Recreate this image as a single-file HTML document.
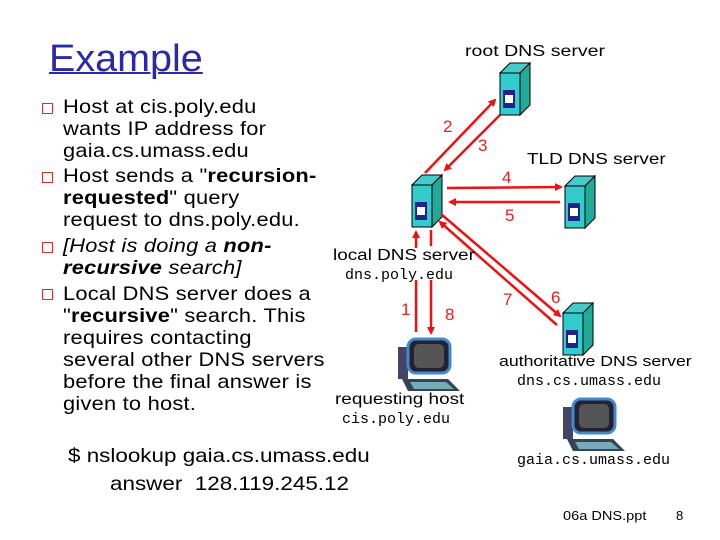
<!DOCTYPE html>
<html><head><meta charset="utf-8"><style>
body{margin:0;width:720px;height:540px;background:#fff;position:relative;overflow:hidden;font-family:"Liberation Sans",sans-serif}
.a{position:absolute;white-space:nowrap;transform-origin:0 0}
.t{font-size:19.5px;color:#000;left:63px;letter-spacing:0.2px;transform:scaleX(1.12)}
.b{position:absolute;left:42px;width:9px;height:9px;border:1.5px solid #c33;background:#fff}
.m{font-family:"Liberation Mono",monospace;font-size:15px}
.s{font-size:15.5px;transform:scaleX(1.22)}
.r{color:#d22;font-size:17px}
</style></head><body>
<svg class="a" style="left:0;top:0" width="720" height="540">
<defs>
<marker id="h" markerWidth="8" markerHeight="8" refX="6" refY="4" orient="auto" markerUnits="userSpaceOnUse"><path d="M0,0 L8,4 L0,8z" fill="#e11"/></marker>
<g id="srv"><path d="M0,10 L10,0 L30,0 L20,10z" fill="#4cc" stroke="#000" stroke-width="1"/><path d="M20,10 L30,0 L30,42 L20,52z" fill="#2a9" stroke="#000" stroke-width="1"/><rect x="0" y="10" width="20" height="42" fill="#3cc" stroke="#000" stroke-width="1"/><rect x="3" y="27" width="12" height="18" fill="#228"/><rect x="5" y="32" width="8" height="8" fill="#fff"/></g>
<g id="pc"><rect x="0" y="8" width="10" height="32" fill="#446" /><rect x="10" y="0" width="42" height="34" rx="8" fill="#223" stroke="#48c" stroke-width="3"/><rect x="16" y="5" width="30" height="24" rx="5" fill="#555"/><path d="M4,40 L50,40 L62,52 L10,52z" fill="#345"/><path d="M12,43 L48,43 L56,50 L16,50z" fill="#7ab"/></g>
</defs>
<use href="#srv" x="500" y="63"/>
<use href="#srv" x="412" y="175"/>
<use href="#srv" x="565" y="176"/>
<use href="#srv" x="563" y="303"/>
<use href="#pc" x="398" y="339"/>
<use href="#pc" x="563" y="399"/>
<g stroke="#e11" stroke-width="2.5" fill="none">
<line x1="425" y1="173" x2="495" y2="100" marker-end="url(#h)"/>
<line x1="500" y1="115" x2="445" y2="170" marker-end="url(#h)"/>
<line x1="447" y1="188" x2="561" y2="187" marker-end="url(#h)"/>
<line x1="560" y1="202" x2="450" y2="202" marker-end="url(#h)"/>
<line x1="441" y1="214" x2="560" y2="316" marker-end="url(#h)"/>
<line x1="557" y1="325" x2="440" y2="222" marker-end="url(#h)"/>
<line x1="416" y1="332" x2="416" y2="280"/>
<line x1="416" y1="248" x2="416" y2="232" marker-end="url(#h)"/>
<line x1="431" y1="230" x2="431" y2="246"/>
<line x1="431" y1="280" x2="431" y2="333" marker-end="url(#h)"/>
</g>
</svg>
<div class="a" style="left:49px;top:38px;font-size:38px;color:#2a2aa8;text-decoration:underline;text-decoration-thickness:2px;transform:scaleX(1.04)">Example</div>

<div class="b" style="top:103px"></div>
<div class="a t" style="top:96px">Host at cis.poly.edu</div>
<div class="a t" style="top:118px">wants IP address for</div>
<div class="a t" style="top:140px">gaia.cs.umass.edu</div>
<div class="b" style="top:172px"></div>
<div class="a t" style="top:165px">Host sends a "<b>recursion-</b></div>
<div class="a t" style="top:187px"><b>requested</b>" query</div>
<div class="a t" style="top:209px">request to dns.poly.edu.</div>
<div class="b" style="top:242px"></div>
<div class="a t" style="top:235px"><i>[Host is doing a <b>non-</b></i></div>
<div class="a t" style="top:257px"><i><b>recursive</b> search]</i></div>
<div class="b" style="top:289px"></div>
<div class="a t" style="top:283px">Local DNS server does a</div>
<div class="a t" style="top:305px">"<b>recursive</b>" search.  This</div>
<div class="a t" style="top:327px">requires contacting</div>
<div class="a t" style="top:349px">several other DNS servers</div>
<div class="a t" style="top:371px">before the final answer is</div>
<div class="a t" style="top:393px">given to host.</div>

<div class="a" style="left:68px;top:445px;font-size:19.5px;transform:scaleX(1.15)">$ nslookup gaia.cs.umass.edu</div>
<div class="a" style="left:110px;top:473px;font-size:19.5px;transform:scaleX(1.15)">answer&nbsp;&nbsp;128.119.245.12</div>

<div class="a s" style="left:465px;top:43px;transform:scaleX(1.26)">root DNS server</div>
<div class="a s" style="left:527px;top:151px">TLD DNS server</div>
<div class="a s" style="left:333px;top:247px">local DNS server</div>
<div class="a m" style="left:345px;top:267px">dns.poly.edu</div>
<div class="a s" style="left:335px;top:391px">requesting host</div>
<div class="a m" style="left:342px;top:411px">cis.poly.edu</div>
<div class="a s" style="left:499px;top:354px;font-size:14.5px">authoritative DNS server</div>
<div class="a m" style="left:517px;top:373px">dns.cs.umass.edu</div>
<div class="a m" style="left:517px;top:452px">gaia.cs.umass.edu</div>
<div class="a" style="left:563px;top:508px;font-size:13px;transform:scaleX(1.12)">06a DNS.ppt</div>
<div class="a" style="left:676px;top:508px;font-size:13px">8</div>

<div class="a r" style="left:443px;top:117px">2</div>
<div class="a r" style="left:478px;top:136px">3</div>
<div class="a r" style="left:502px;top:168px">4</div>
<div class="a r" style="left:505px;top:206px">5</div>
<div class="a r" style="left:551px;top:288px">6</div>
<div class="a r" style="left:503px;top:290px">7</div>
<div class="a r" style="left:401px;top:300px">1</div>
<div class="a r" style="left:445px;top:305px">8</div>
</body></html>
